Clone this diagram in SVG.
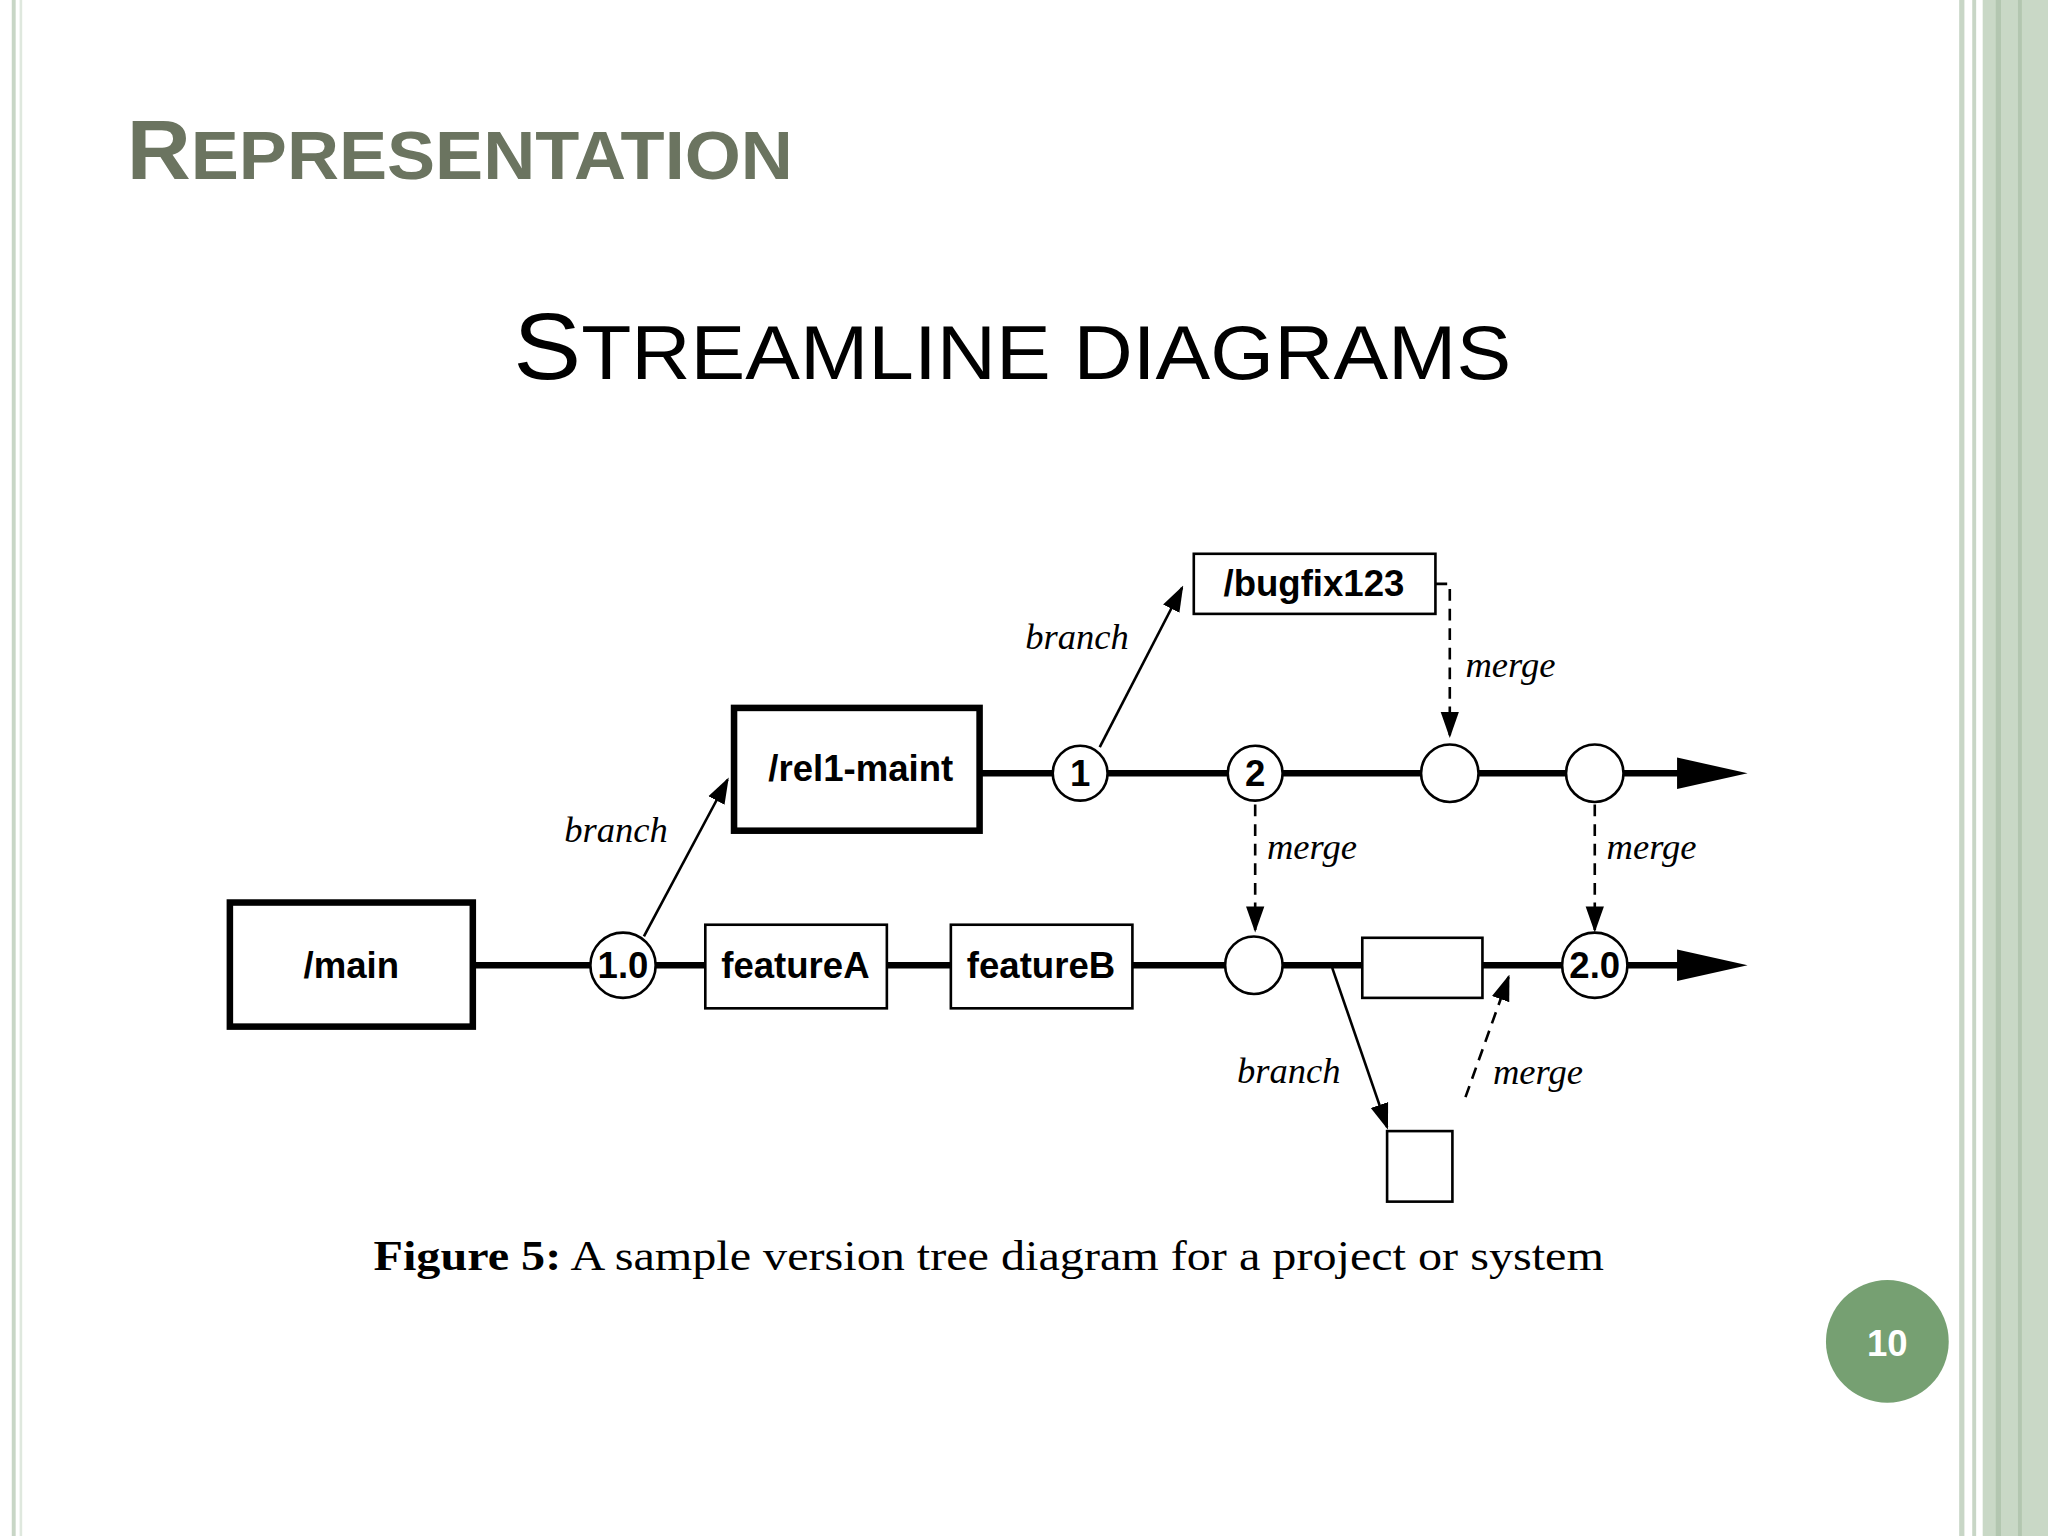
<svg xmlns="http://www.w3.org/2000/svg" width="2048" height="1536" viewBox="0 0 2048 1536">
<defs>
<style>
.ln{stroke:#000;stroke-width:5;fill:none}
.th{stroke:#000;stroke-width:2;fill:none}
.ds{stroke:#000;stroke-width:2;fill:none;stroke-dasharray:9 6}
.box{fill:#fff;stroke:#000;stroke-width:2}
.bbox{fill:#fff;stroke:#000;stroke-width:5}
.nd{fill:#fff;stroke:#000;stroke-width:2}
.bt{font-family:"Liberation Sans",Arial,sans-serif;font-weight:bold;font-size:28px;text-anchor:middle}
.lb{font-family:"Liberation Serif",serif;font-style:italic;font-size:28px}
</style>
<marker id="ah2" viewBox="0 0 10 10" refX="9" refY="5" markerWidth="20" markerHeight="20" markerUnits="userSpaceOnUse" orient="auto"><path d="M0,1.5 L10,5 L0,8.5 z" fill="#000"/></marker>
</defs>
<rect width="2048" height="1536" fill="#fff"/>
<g transform="scale(1.30612)">
<g id="frame">
<rect x="9" y="0" width="3" height="1176" fill="#c8d6c6"/>
<rect x="15" y="0" width="2" height="1176" fill="#dfe8de"/>
<rect x="1500" y="0" width="4" height="1176" fill="#c8d6c6"/>
<rect x="1510" y="0" width="3" height="1176" fill="#c8d6c6"/>
<rect x="1518" y="0" width="50" height="1176" fill="#c9d8c6"/>
<rect x="1528" y="0" width="4" height="1176" fill="#b3c6b0"/>
<rect x="1545" y="0" width="3" height="1176" fill="#b3c6b0"/>
</g>
<text x="97" y="137" font-family="Liberation Sans,Arial,sans-serif" font-weight="bold" fill="#6b7460" font-size="64" textLength="510" lengthAdjust="spacingAndGlyphs">R<tspan font-size="52">EPRESENTATION</tspan></text>
<text x="393" y="290" font-family="Liberation Sans,Arial,sans-serif" fill="#000" font-size="72" textLength="764" lengthAdjust="spacingAndGlyphs">S<tspan font-size="58">TREAMLINE DIAGRAMS</tspan></text>
<g id="page"><circle cx="1445" cy="1027" r="47" fill="#76a072"/><text x="1445" y="1038" font-family="Liberation Sans,Arial,sans-serif" font-weight="bold" font-size="28" fill="#fff" text-anchor="middle">10</text></g>
<g id="connectors">
<line class="ln" x1="362" y1="739" x2="1290" y2="739"/>
<path d="M1284,727 L1338,739 L1284,751 z"/>
<line class="ln" x1="750" y1="592" x2="1290" y2="592"/>
<path d="M1284,580 L1338,592 L1284,604 z"/>
<line class="th" x1="493" y1="717" x2="557" y2="597" marker-end="url(#ah2)"/>
<line class="th" x1="842" y1="572" x2="905" y2="450" marker-end="url(#ah2)"/>
<polyline class="ds" points="1099,447 1110,447 1110,563" marker-end="url(#ah2)"/>
<line class="ds" x1="961" y1="616" x2="961" y2="712" marker-end="url(#ah2)"/>
<line class="ds" x1="1221" y1="616" x2="1221" y2="712" marker-end="url(#ah2)"/>
<line class="th" x1="1020" y1="741" x2="1062" y2="863" marker-end="url(#ah2)"/>
<line class="ds" x1="1122" y1="840" x2="1155" y2="748" marker-end="url(#ah2)"/>
</g>
<g id="main"><rect class="bbox" x="176" y="691" width="186" height="95"/><text class="bt" x="269" y="749">/main</text></g>
<g id="rel1"><rect class="bbox" x="562" y="542" width="188" height="94"/><text class="bt" x="659" y="598">/rel1-maint</text></g>
<g id="bugfix"><rect class="box" x="914" y="424" width="185" height="46"/><text class="bt" x="1006" y="456">/bugfix123</text></g>
<g id="featureA"><rect class="box" x="540" y="708" width="139" height="64"/><text class="bt" x="609" y="749">featureA</text></g>
<g id="featureB"><rect class="box" x="728" y="708" width="139" height="64"/><text class="bt" x="797" y="749">featureB</text></g>
<g id="n10"><circle class="nd" cx="477" cy="739" r="25"/><text class="bt" x="477" y="749">1.0</text></g>
<g id="n1"><circle class="nd" cx="827" cy="592" r="21"/><text class="bt" x="827" y="602">1</text></g>
<g id="n2"><circle class="nd" cx="961" cy="592" r="21"/><text class="bt" x="961" y="602">2</text></g>
<g id="n3"><circle class="nd" cx="1110" cy="592" r="22"/></g>
<g id="n4"><circle class="nd" cx="1221" cy="592" r="22"/></g>
<g id="n5"><circle class="nd" cx="960" cy="739" r="22"/></g>
<g id="n20"><circle class="nd" cx="1221" cy="739" r="25"/><text class="bt" x="1221" y="749">2.0</text></g>
<g id="rbox"><rect class="box" x="1043" y="718" width="92" height="46"/></g>
<g id="sbox"><rect class="box" x="1062" y="866" width="50" height="54"/></g>
<g id="labels">
<text class="lb" x="432" y="645">branch</text>
<text class="lb" x="785" y="497">branch</text>
<text class="lb" x="1122" y="518">merge</text>
<text class="lb" x="970" y="658">merge</text>
<text class="lb" x="1230" y="658">merge</text>
<text class="lb" x="947" y="829">branch</text>
<text class="lb" x="1143" y="830">merge</text>
</g>
<text x="286" y="972" font-family="Liberation Serif,serif" font-size="32" textLength="942" lengthAdjust="spacingAndGlyphs"><tspan font-weight="bold">Figure 5:</tspan> A sample version tree diagram for a project or system</text>
</g>
</svg>
